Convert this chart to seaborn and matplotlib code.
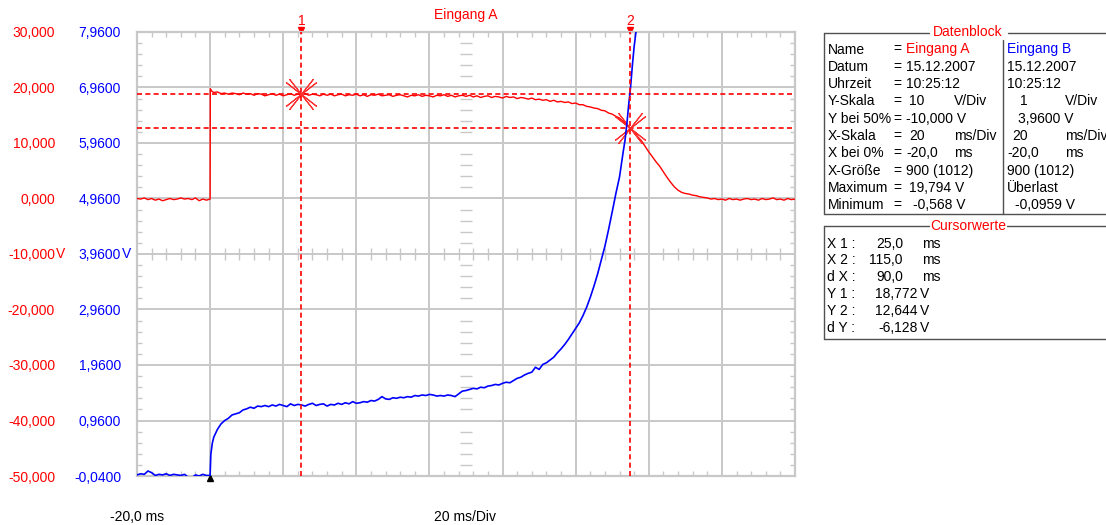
import numpy as np
import pandas as pd
import matplotlib
matplotlib.use("Agg")
import matplotlib.pyplot as plt
from matplotlib.lines import Line2D
from matplotlib.ticker import MultipleLocator, FixedLocator, FixedFormatter
import matplotlib.transforms as mtransforms
import seaborn as sns

# ---------------- data ----------------
# Channel A (Eingang A): samples every 1 ms, step at t = 0
a_pre_time = list(range(-20, 1))
a_pre_volt = [0.0, -0.1, 0.1, -0.2, 0.0, -0.3, -0.1, -0.4, -0.2, 0.0,
              -0.2, -0.1, 0.1, -0.1, 0.0, -0.2, 0.1, -0.4, -0.1, -0.3, -0.1]
a_post_time = [0.05, 0.5] + list(range(1, 161))
a_post_volt = [19.79, 19.3,
               19.1, 19.2, 18.9, 19.0, 18.8, 19.0, 18.9, 18.7, 19.0, 18.8,
               18.9, 18.6, 18.9, 18.8, 18.5, 18.7, 18.9, 18.6, 18.8, 18.5,
               18.7, 18.9, 18.6, 18.8, 18.77, 18.9, 18.6, 18.8, 18.7, 18.5,
               18.8, 18.6, 18.8, 18.5, 18.7, 18.8, 18.5, 18.7, 18.6, 18.8,
               18.5, 18.7, 18.4, 18.7, 18.6, 18.8, 18.5, 18.6, 18.7, 18.4,
               18.6, 18.7, 18.5, 18.3, 18.6, 18.5, 18.7, 18.4, 18.6, 18.5,
               18.3, 18.6, 18.5, 18.7, 18.4, 18.6, 18.3, 18.5, 18.6, 18.4,
               18.6, 18.3, 18.5, 18.2, 18.4, 18.5, 18.2, 18.4, 18.3, 18.1,
               18.4, 18.2, 18.3, 18.0, 18.2, 18.1, 17.9, 18.1, 17.8, 17.9,
               17.7, 17.8, 17.5, 17.7, 17.4, 17.5, 17.3, 17.4, 17.1, 17.2,
               16.9, 16.9, 16.6, 16.5, 16.3, 16.2, 15.9, 15.8, 15.4, 15.2,
               14.8, 14.5, 13.9, 13.3, 12.64, 12.0, 11.1, 10.4, 9.4, 8.4,
               7.5, 6.6, 5.8, 4.8, 3.8, 2.9, 2.1, 1.5, 1.1, 0.9,
               0.8, 0.6, 0.5, 0.3, 0.2, 0.1, -0.1, 0.0, -0.2, -0.1,
               -0.3, 0.0, -0.2, -0.1, -0.3, -0.1, 0.0, -0.2, -0.1, -0.3,
               0.0, -0.2, -0.1, 0.1, -0.2, -0.1, -0.3, 0.0, -0.2, -0.1]

# Channel B (Eingang B): overload above 7.96 V
b_pre_time = list(range(-20, 1))
b_pre_volt = [-0.02, 0.0, -0.01, 0.05, 0.02, -0.03, -0.01, -0.02, 0.0, -0.03,
              -0.01, -0.02, -0.03, -0.01, -0.06, -0.07, -0.02, -0.04, -0.01, -0.03, -0.03]
b_post_time = [0.2, 0.6] + list(range(1, 114)) + [113.5, 114, 114.5, 115, 115.5, 116, 116.5, 117]
b_post_volt = [0.35, 0.55,
               0.66, 0.80, 0.90, 0.96, 1.00, 1.06, 1.08, 1.10, 1.15, 1.17,
               1.20, 1.18, 1.22, 1.21, 1.23, 1.21, 1.24, 1.22, 1.25, 1.23,
               1.21, 1.26, 1.23, 1.25, 1.24, 1.22, 1.25, 1.27, 1.23, 1.25,
               1.26, 1.22, 1.25, 1.24, 1.27, 1.25, 1.28, 1.26, 1.30, 1.27,
               1.28, 1.30, 1.29, 1.32, 1.31, 1.34, 1.39, 1.35, 1.34, 1.37,
               1.36, 1.38, 1.37, 1.39, 1.38, 1.41, 1.40, 1.42, 1.41, 1.43,
               1.42, 1.40, 1.41, 1.40, 1.42, 1.41, 1.39, 1.44, 1.49, 1.50,
               1.52, 1.54, 1.53, 1.56, 1.55, 1.58, 1.59, 1.61, 1.60, 1.63,
               1.65, 1.64, 1.68, 1.72, 1.74, 1.78, 1.81, 1.83, 1.92, 1.88,
               1.97, 2.00, 2.05, 2.10, 2.18, 2.25, 2.33, 2.42, 2.52, 2.62,
               2.72, 2.85, 3.00, 3.18, 3.38, 3.60, 3.85,
               4.10, 4.40, 4.72, 5.05, 5.35, 5.80,
               6.01, 6.30, 6.65, 6.95, 7.35, 7.70, 7.96, 8.30]

# axis scales
red_ticks = [30, 20, 10, 0, -10, -20, -30, -40, -50]
red_labels = ["30,000", "20,000", "10,000", "0,000", "-10,000", "-20,000", "-30,000",
              "-40,000", "-50,000"]
blue_ticks = [7.96, 6.96, 5.96, 4.96, 3.96, 2.96, 1.96, 0.96, -0.04]
blue_labels = ["7,9600", "6,9600", "5,9600", "4,9600", "3,9600", "2,9600", "1,9600",
               "0,9600", "-0,0400"]
x_ticks = [-20, 0, 20, 40, 60, 80, 100, 120, 140, 160]

# cursors
cursor_x = [25.0, 115.0]
cursor_y = [18.772, 12.644]

# data block
db_names = ["Name", "Datum", "Uhrzeit", "Y-Skala", "Y bei 50%", "X-Skala", "X bei 0%",
            "X-Größe", "Maximum", "Minimum"]
db_a = ["Eingang A", "15.12.2007", "10:25:12", "10", "-10,000 V", "20", "-20,0",
        "900 (1012)", "19,794 V", "-0,568 V"]
db_a_unit = ["", "", "", "V/Div", "", "ms/Div", "ms", "", "", ""]
db_b = ["Eingang B", "15.12.2007", "10:25:12", "1", "3,9600 V", "20", "-20,0",
        "900 (1012)", "Überlast", "-0,0959 V"]
db_b_unit = ["", "", "", "V/Div", "", "ms/Div", "ms", "", "", ""]

cw_names = ["X 1 :", "X 2 :", "d X :", "Y 1 :", "Y 2 :", "d Y :"]
cw_vals = ["25,0", "115,0", "90,0", "18,772", "12,644", "-6,128"]
cw_units = ["ms", "ms", "ms", "V", "V", "V"]

# ---------------- style ----------------
sns.set_theme(style="white")
plt.rcParams["font.family"] = ["Liberation Sans", "DejaVu Sans"]
plt.rcParams["font.size"] = 10

RED = "#ff0000"
BLUE = "#0000ff"
GRID = "#c8c8c8"
FRAME = "#505050"

W, H = 1106, 525
fig = plt.figure(figsize=(W / 100, H / 100), dpi=100)
fig.patch.set_facecolor("white")


def fx(px):
    return px / W


def fy(py):
    return 1 - py / H


L, R, T, B = 137, 795, 32, 476
rect = [fx(L), fy(B), (R - L) / W, (B - T) / H]
ax = fig.add_axes(rect)
ax2 = fig.add_axes(rect, sharex=ax)
ax2.patch.set_alpha(0)

ax.set_xlim(-20, 160)
ax.set_ylim(-50, 30)
ax2.set_ylim(-0.04, 7.96)

# grid and frame
ax.xaxis.set_major_locator(FixedLocator(x_ticks))
ax.yaxis.set_major_locator(FixedLocator(red_ticks))
ax.yaxis.set_major_formatter(FixedFormatter(red_labels))
ax.grid(True, which="major", color=GRID, lw=1.4)
ax.xaxis.set_minor_locator(MultipleLocator(4))
ax.yaxis.set_minor_locator(MultipleLocator(2))
ax.tick_params(which="major", length=0, labelbottom=False, labelleft=True,
               pad=59, labelsize=10, labelcolor=RED)
ax.tick_params(which="minor", direction="in", length=3.5, width=1, color=GRID,
               top=True, bottom=True, left=True, right=True)
for s in ax.spines.values():
    s.set_color(GRID)
    s.set_linewidth(1.6)

ax2.yaxis.set_major_locator(FixedLocator(blue_ticks))
ax2.yaxis.set_major_formatter(FixedFormatter(blue_labels))
ax2.tick_params(which="both", length=0, labelbottom=False, pad=11.5, labelsize=10,
                labelcolor=BLUE)
ax2.yaxis.set_minor_locator(FixedLocator([]))
for s in ax2.spines.values():
    s.set_visible(False)
ax2.grid(False)

# centre cross ticks
xm = [v for v in np.arange(-16, 160, 4) if v % 20 != 0]
ax.plot(xm, [-10] * len(xm), ls="none", marker="|", ms=8, mew=1, color=GRID, zorder=1)
ym = [v for v in np.arange(-48, 30, 2) if v % 10 != 0]
ax.plot([70] * len(ym), ym, ls="none", marker="_", ms=8, mew=1, color=GRID, zorder=1)

# traces
df_a = pd.DataFrame({"t": a_pre_time + a_post_time, "v": a_pre_volt + a_post_volt})
df_b = pd.DataFrame({"t": b_pre_time + b_post_time, "v": b_pre_volt + b_post_volt})
sns.lineplot(data=df_a, x="t", y="v", ax=ax, color=RED, lw=1.0, estimator=None, sort=False,
             zorder=3)
sns.lineplot(data=df_b, x="t", y="v", ax=ax2, color=BLUE, lw=1.2, estimator=None, sort=False,
             zorder=3)
for a in (ax, ax2):
    a.set_xlabel("")
    a.set_ylabel("")

# cursors
dash = (0, (3, 2))
for cx in cursor_x:
    ax2.axvline(cx, color=RED, lw=1.2, ls=dash, zorder=4)
for cy in cursor_y:
    ax.axhline(cy, color=RED, lw=1.2, ls=dash, zorder=4)
for cx, cy in zip(cursor_x, cursor_y):
    for ang in (38, 52):
        ax.plot(cx, cy, marker=(4, 2, ang), ms=28, mew=0.8, color="#ff3030", ls="none",
                zorder=5)

trans = mtransforms.blended_transform_factory(ax.transData, ax.transAxes)
for i, cx in enumerate(cursor_x):
    ax.plot(cx, 1.005, marker="v", ms=4, color=RED, transform=trans, clip_on=False)
    ax.text(cx, 1.024, str(i + 1), color=RED, ha="center", va="center", fontsize=10,
            transform=trans)
ax.plot(0, -0.004, marker="^", ms=5, color="black", transform=trans, clip_on=False, zorder=6)

# unit suffix on the centre row
fig.text(fx(56), fy(254), "V", color=RED, ha="left", va="center", fontsize=10)
fig.text(fx(122), fy(254), "V", color=BLUE, ha="left", va="center", fontsize=10)

# titles and x info
fig.text(fx(466), fy(15), "Eingang A", color=RED, ha="center", va="center", fontsize=10)
fig.text(fx(137), fy(517), "-20,0 ms", color="black", ha="center", va="center", fontsize=10)
fig.text(fx(465), fy(517), "20 ms/Div", color="black", ha="center", va="center", fontsize=10)


# ---------------- data block panel ----------------
def hline(x0, x1, y):
    fig.add_artist(Line2D([fx(x0), fx(x1)], [fy(y), fy(y)], color=FRAME, lw=1))


def vline(x, y0, y1):
    fig.add_artist(Line2D([fx(x), fx(x)], [fy(y0), fy(y1)], color=FRAME, lw=1))


def txt(x, y, s, color="black", ha="left"):
    fig.text(fx(x), fy(y), s, color=color, ha=ha, va="center", fontsize=10)


# Datenblock frame
hline(824, 929, 33)
hline(1008, 1106, 33)
hline(824, 1106, 214)
vline(824, 33, 214)
vline(1003, 40, 214)
txt(968, 32, "Datenblock", RED, "center")

a_val_x = [906, 906, 906, 909, 906, 909, 906, 906, 909, 913]
b_val_x = [1007, 1007, 1007, 1020, 1018, 1012, 1007, 1007, 1007, 1015]
for i, name in enumerate(db_names):
    y = 49.5 + 17.3 * i
    txt(828, y, name)
    txt(893, y, "=")
    txt(a_val_x[i], y, db_a[i], RED if i == 0 else "black")
    if db_a_unit[i]:
        txt(954, y, db_a_unit[i])
    txt(b_val_x[i], y, db_b[i], BLUE if i == 0 else "black")
    if db_b_unit[i]:
        txt(1065, y, db_b_unit[i])

# Cursorwerte frame
hline(824, 929, 226)
hline(1007, 1106, 226)
hline(824, 1106, 339)
vline(824, 226, 339)
txt(968, 226, "Cursorwerte", RED, "center")

for i, name in enumerate(cw_names):
    y = 243.5 + 16.8 * i
    txt(827, y, name)
    if cw_units[i] == "ms":
        txt(903, y, cw_vals[i], ha="right")
        txt(922, y, cw_units[i])
    else:
        txt(918, y, cw_vals[i], ha="right")
        txt(920, y, cw_units[i])

fig.savefig("out.png", dpi=100, facecolor="white")
